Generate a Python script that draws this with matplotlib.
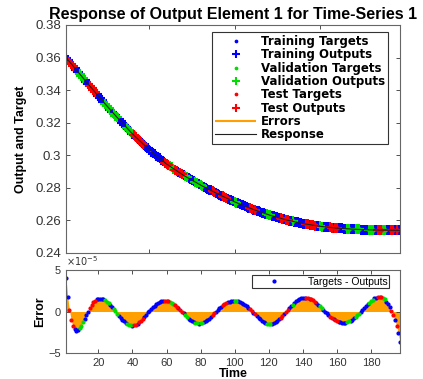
import numpy as np
import matplotlib.pyplot as plt
from matplotlib.ticker import FormatStrFormatter

plt.rcParams['font.family'] = ['Liberation Sans', 'DejaVu Sans']

# network outputs (response) at each time step
response = [
    0.36000, 0.35874, 0.35748, 0.35622, 0.35496, 0.35370, 0.35244, 0.35118, 0.34992, 0.34866,
    0.34742, 0.34618, 0.34494, 0.34370, 0.34246, 0.34122, 0.33998, 0.33874, 0.33750, 0.33626,
    0.33507, 0.33388, 0.33269, 0.33150, 0.33031, 0.32912, 0.32793, 0.32674, 0.32555, 0.32436,
    0.32324, 0.32212, 0.32100, 0.31988, 0.31876, 0.31764, 0.31652, 0.31540, 0.31428, 0.31316,
    0.31216, 0.31116, 0.31016, 0.30916, 0.30816, 0.30716, 0.30616, 0.30516, 0.30416, 0.30316,
    0.30231, 0.30146, 0.30061, 0.29976, 0.29891, 0.29806, 0.29721, 0.29636, 0.29551, 0.29466,
    0.29396, 0.29326, 0.29256, 0.29186, 0.29116, 0.29046, 0.28976, 0.28906, 0.28836, 0.28766,
    0.28706, 0.28646, 0.28586, 0.28526, 0.28466, 0.28406, 0.28346, 0.28286, 0.28226, 0.28166,
    0.28112, 0.28058, 0.28004, 0.27950, 0.27896, 0.27842, 0.27788, 0.27734, 0.27680, 0.27626,
    0.27577, 0.27528, 0.27479, 0.27430, 0.27381, 0.27332, 0.27283, 0.27234, 0.27185, 0.27136,
    0.27093, 0.27050, 0.27007, 0.26964, 0.26921, 0.26878, 0.26835, 0.26792, 0.26749, 0.26706,
    0.26669, 0.26632, 0.26595, 0.26558, 0.26521, 0.26484, 0.26447, 0.26410, 0.26373, 0.26336,
    0.26306, 0.26276, 0.26246, 0.26216, 0.26186, 0.26156, 0.26126, 0.26096, 0.26066, 0.26036,
    0.26013, 0.25990, 0.25967, 0.25944, 0.25921, 0.25898, 0.25875, 0.25852, 0.25829, 0.25806,
    0.25789, 0.25772, 0.25755, 0.25738, 0.25721, 0.25704, 0.25687, 0.25670, 0.25653, 0.25636,
    0.25625, 0.25614, 0.25603, 0.25592, 0.25581, 0.25570, 0.25559, 0.25548, 0.25537, 0.25526,
    0.25519, 0.25512, 0.25505, 0.25498, 0.25491, 0.25484, 0.25477, 0.25470, 0.25463, 0.25456,
    0.25452, 0.25448, 0.25444, 0.25440, 0.25436, 0.25432, 0.25428, 0.25424, 0.25420, 0.25416,
    0.25414, 0.25412, 0.25410, 0.25408, 0.25406, 0.25404, 0.25402, 0.25400, 0.25398, 0.25396,
    0.25395, 0.25394, 0.25393, 0.25392, 0.25391, 0.25390, 0.25389,
]

# targets - outputs, in units of 1e-5
error_e5 = [
    4.0, 1.8, 0.2, -1.0, -1.7, -2.1, -2.3, -2.25, -2.0, -1.7,
    -1.3, -0.9, -0.45, 0.0, 0.4, 0.8, 1.1, 1.3, 1.45, 1.53,
    1.55, 1.52, 1.45, 1.33, 1.18, 0.98, 0.76, 0.52, 0.27, 0.02,
    -0.26, -0.52, -0.77, -1.0, -1.2, -1.38, -1.52, -1.62, -1.68, -1.7,
    -1.67, -1.6, -1.48, -1.32, -1.12, -0.9, -0.65, -0.39, -0.12, 0.1,
    0.3, 0.5, 0.7, 0.87, 1.02, 1.14, 1.23, 1.28, 1.3, 1.29,
    1.24, 1.16, 1.05, 0.92, 0.76, 0.58, 0.39, 0.2, 0.0, -0.22,
    -0.45, -0.66, -0.85, -1.03, -1.18, -1.3, -1.39, -1.43, -1.45, -1.43,
    -1.38, -1.29, -1.17, -1.02, -0.85, -0.65, -0.44, -0.22, 0.0, 0.19,
    0.38, 0.56, 0.73, 0.88, 1.01, 1.12, 1.2, 1.26, 1.29, 1.3,
    1.28, 1.23, 1.16, 1.06, 0.94, 0.8, 0.63, 0.45, 0.26, 0.07,
    -0.13, -0.35, -0.56, -0.76, -0.95, -1.12, -1.26, -1.38, -1.46, -1.5,
    -1.49, -1.45, -1.37, -1.25, -1.1, -0.93, -0.73, -0.52, -0.3, -0.08,
    0.15, 0.38, 0.61, 0.83, 1.03, 1.21, 1.37, 1.49, 1.58, 1.63,
    1.65, 1.65, 1.62, 1.56, 1.47, 1.35, 1.2, 1.03, 0.84, 0.63,
    0.41, 0.19, -0.03, -0.24, -0.44, -0.63, -0.8, -0.95, -1.08, -1.19,
    -1.27, -1.32, -1.35, -1.35, -1.33, -1.28, -1.2, -1.1, -0.97, -0.82,
    -0.65, -0.46, -0.26, -0.06, 0.16, 0.4, 0.64, 0.87, 1.08, 1.27,
    1.43, 1.57, 1.67, 1.73, 1.75, 1.72, 1.62, 1.45, 1.2, 0.88,
    0.5, 0.1, -0.4, -1.0, -1.7, -2.6, -3.7,
]

# data division for each time step: t = training, v = validation, s = test
split = ("tt" "sss" "ttt" "vvv" "ttt" "ssss" "ttttt" "vvv" "tt" "vvv"
         "ttttt" "vvv" "t" "ss" "t" "sss" "tttttttttttt" "sss" "vvv" "ss"
         "t" "ss" "t" "vv" "tttt" "vv" "t" "vv" "ttttt" "ss"
         "tttt" "sss" "tttt" "vv" "ttttttt" "ss" "t" "s" "tttttt" "vvv"
         "ttttt" "ss" "t" "ss" "tt" "v" "ttttttt" "ss" "t" "sss"
         "tt" "vv" "tttt" "ss" "t" "ss" "ttttt" "vv" "ttt" "vvv"
         "ttttt" "vvv" "tt" "sss" "vv" "ttt" "ss" "t" "s" "tt")

groups = [("t", "Training", "#0000ff"),
          ("v", "Validation", "#00dd00"),
          ("s", "Test", "#ff0000")]
orange = "#ffa000"

time = np.arange(1, len(response) + 1)
outputs = np.array(response)
errors = np.array(error_e5)
targets = outputs + errors * 1e-5
kind = np.array(list(split))

fig = plt.figure(figsize=(4.23, 3.79), dpi=100)
ax1 = fig.add_axes([0.156, 0.3325, 0.7896, 0.6016])
ax2 = fig.add_axes([0.156, 0.0686, 0.7896, 0.219])

for key, name, col in groups:
    m = kind == key
    ax1.plot(time[m], targets[m], ".", color=col, ms=4.5, label=name + " Targets")
    ax1.plot(time[m], outputs[m], "+", color=col, ms=7, mew=1.5,
             label=name + " Outputs")
ax1.vlines(time, outputs, targets, color=orange, lw=1.5, label="Errors")
ax1.plot(time, outputs, "-", color="#202020", lw=0.8, label="Response")

ax1.set_xlim(1, len(time))
ax1.set_ylim(0.24, 0.38)
ax1.set_yticks(np.arange(0.24, 0.3801, 0.02))
ax1.yaxis.set_major_formatter(FormatStrFormatter("%g"))
ax1.set_xticks([50, 100, 150])
ax1.set_xticklabels([])
ax1.set_ylabel("Output and Target", fontweight="bold", fontsize=9, labelpad=6)
ax1.set_title("Response of Output Element 1 for Time-Series 1",
              fontweight="bold", fontsize=11.5, pad=4)
leg1 = ax1.legend(loc="upper right", bbox_to_anchor=(0.964, 0.969),
                  borderaxespad=0, markerscale=0.75,
                  prop={"family": "DejaVu Sans", "weight": "bold", "size": 8.5},
                  handlelength=3.5, labelspacing=0.03, borderpad=0.25,
                  handletextpad=0.4, fancybox=False, framealpha=1)
leg1.get_frame().set_edgecolor("#333333")
leg1.get_frame().set_linewidth(0.8)

# errors drawn as orange area with coloured dots on top
ax2.fill_between(time, 0, errors, color=orange, lw=0)
for i, (key, name, col) in enumerate(groups):
    m = kind == key
    ax2.plot(time[m], errors[m], ".", color=col, ms=4,
             label="Targets - Outputs" if i == 0 else None)
ax2.set_xlim(1, len(time))
ax2.set_ylim(-5, 5)
ax2.set_yticks([-5, 0, 5])
ax2.set_xticks(np.arange(20, 181, 20))
ax2.set_xlabel("Time", fontweight="bold", fontsize=9, labelpad=0)
ax2.set_ylabel("Error", fontweight="bold", fontsize=9, labelpad=2)
ax2.text(0.0, 1.02, r"$\times10^{-5}$", transform=ax2.transAxes,
         fontsize=7, ha="left", va="bottom", color="#333333")
leg2 = ax2.legend(loc="upper right", bbox_to_anchor=(0.967, 0.94),
                  borderaxespad=0, fontsize=7.5, handlelength=4,
                  handletextpad=1.2, borderpad=0.15, fancybox=False,
                  framealpha=1)
leg2.get_frame().set_edgecolor("#333333")
leg2.get_frame().set_linewidth(0.8)

for ax in (ax1, ax2):
    ax.tick_params(direction="in", top=True, right=True, length=3,
                   labelsize=8, colors="#333333", width=0.6)
    for s in ax.spines.values():
        s.set_color("#666666")
        s.set_linewidth(0.8)
ax1.tick_params(axis="y", labelsize=9.5)

fig.savefig("out.png", dpi=100)
